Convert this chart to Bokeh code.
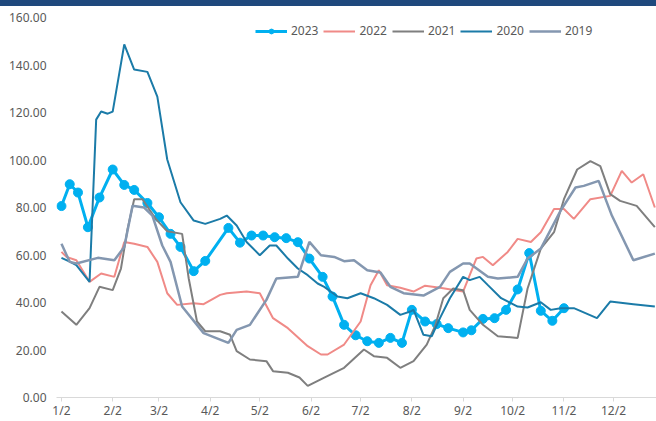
import pandas as pd
from bokeh.plotting import figure
from bokeh.models import (Legend, LegendItem, NumeralTickFormatter, Div,
                          SingleIntervalTicker, FixedTicker, Range1d)
from bokeh.layouts import column
from bokeh.embed import file_html
from bokeh.resources import INLINE

# x values: days counted from 2 January
tick_labels = ["1/2", "2/2", "3/2", "4/2", "5/2", "6/2", "7/2", "8/2", "9/2", "10/2", "11/2", "12/2"]

d2023 = [0, 5, 10, 16, 23, 31, 38, 44, 52, 59, 66, 72, 80, 87, 101, 108, 115, 122, 129, 136,
         143, 150, 158, 164, 171, 178, 185, 192, 199, 206, 212, 220, 227, 234, 243, 248, 255,
         262, 269, 276, 283, 290, 297, 304]
v2023 = [80.6, 89.8, 86.3, 71.7, 84.2, 96.0, 89.5, 87.4, 81.9, 75.9, 68.9, 63.4, 53.2, 57.5,
         71.4, 65.2, 68.2, 68.2, 67.5, 67.1, 65.4, 58.5, 50.8, 42.5, 30.6, 26.2, 23.7, 23.0,
         25.1, 23.0, 36.9, 32.0, 30.9, 29.2, 27.4, 28.3, 33.1, 33.4, 36.9, 45.5, 60.8, 36.5,
         32.3, 37.6]

d2022 = [0, 3, 9, 17, 24, 32, 38, 44, 52, 58, 64, 70, 80, 86, 96, 100, 112, 120, 128, 137,
         149, 157, 161, 171, 181, 187, 192, 197, 205, 213, 220, 229, 243, 251, 255, 261, 270,
         276, 284, 290, 298, 304, 310, 320, 332, 339, 345, 352, 359]
v2022 = [61.3, 59.2, 57.8, 48.7, 52.2, 50.8, 65.5, 64.7, 63.4, 57.1, 43.9, 39.0, 39.7, 39.3,
         43.2, 43.9, 44.6, 43.9, 33.4, 29.2, 21.6, 18.1, 18.1, 22.3, 32.0, 47.3, 53.6, 47.3,
         46.2, 44.6, 47.1, 46.2, 44.6, 58.5, 59.2, 55.7, 61.3, 66.8, 65.5, 69.6, 79.4, 79.4,
         75.2, 83.5, 84.9, 95.4, 90.5, 94.0, 80.0]

d2021 = [0, 9, 17, 23, 31, 36, 40, 44, 49, 57, 64, 73, 77, 82, 87, 96, 102, 106, 114, 124,
         128, 137, 144, 149, 159, 171, 183, 189, 197, 205, 213, 221, 226, 231, 237, 243, 247,
         255, 264, 276, 282, 290, 298, 304, 312, 320, 326, 332, 338, 348, 359]
v2021 = [36.2, 30.6, 37.6, 46.6, 45.2, 54.3, 71.0, 83.5, 83.5, 75.2, 70.0, 68.9, 50.1, 32.0,
         27.9, 27.9, 26.4, 19.5, 16.0, 15.3, 11.1, 10.4, 8.4, 4.9, 8.4, 12.5, 20.2, 17.4, 16.7,
         12.5, 15.3, 22.3, 30.0, 41.8, 45.9, 45.2, 36.9, 30.6, 25.8, 25.1, 45.9, 62.7, 69.6,
         83.5, 96.0, 99.5, 97.4, 85.6, 82.8, 80.7, 71.7]

d2020 = [0, 5, 9, 17, 21, 24, 28, 31, 38, 44, 52, 58, 64, 72, 80, 87, 96, 100, 106, 112, 120,
         126, 130, 137, 143, 149, 155, 159, 167, 173, 181, 189, 197, 205, 211, 213, 219, 224,
         229, 235, 243, 247, 253, 258, 266, 276, 282, 290, 296, 302, 310, 324, 332, 346, 359]
v2020 = [58.8, 57.2, 55.7, 48.7, 117.0, 120.4, 119.5, 120.4, 148.7, 138.1, 137.1, 126.7, 100.2,
         82.2, 74.5, 73.1, 75.2, 76.6, 72.4, 65.5, 59.9, 64.0, 64.0, 58.5, 54.3, 51.5, 48.0,
         46.6, 42.5, 41.8, 43.9, 41.8, 39.0, 34.8, 36.2, 36.9, 26.4, 25.8, 33.4, 41.8, 50.8,
         49.4, 50.8, 47.3, 41.8, 38.3, 37.9, 40.1, 36.9, 37.6, 37.6, 33.4, 40.4, 39.3, 38.3]

d2019 = [0, 5, 9, 22, 32, 38, 43, 50, 55, 61, 66, 73, 86, 96, 101, 106, 114, 124, 130, 143,
         150, 157, 165, 171, 177, 185, 193, 199, 207, 219, 229, 235, 243, 247, 258, 264, 276,
         282, 290, 302, 311, 316, 325, 333, 346, 359]
v2019 = [64.7, 57.1, 56.4, 58.8, 57.8, 63.4, 80.7, 80.0, 76.6, 64.0, 57.1, 38.3, 27.1, 24.4,
         23.0, 28.5, 30.6, 41.1, 50.1, 50.8, 65.5, 59.9, 59.2, 57.4, 57.8, 53.6, 52.6, 46.6,
         43.9, 42.9, 46.6, 52.9, 56.4, 56.4, 50.8, 50.1, 50.8, 58.5, 62.7, 78.7, 88.4, 89.1,
         91.2, 76.6, 57.8, 60.6]

base = pd.Timestamp(2023, 1, 2)
tick_days = [(pd.Timestamp(2023, m, 2) - base).days for m in range(1, 13)]

FONT = "Noto Sans"
TXT = "#595959"

p = figure(width=656, height=415, output_backend="svg", toolbar_location=None,
           x_range=Range1d(-3, 360), y_range=Range1d(0, 160))
p.min_border_left = 56
p.min_border_right = 0
p.min_border_top = 11
p.min_border_bottom = 0
p.outline_line_color = None
p.xgrid.visible = False
p.ygrid.visible = False
p.background_fill_color = "white"
p.border_fill_color = "white"

p.xaxis.ticker = FixedTicker(ticks=tick_days)
p.xaxis.major_label_overrides = {d: l for d, l in zip(tick_days, tick_labels)}
p.xaxis.axis_line_color = "#D9D9D9"
p.xaxis.major_tick_line_color = "#D9D9D9"
p.xaxis.major_tick_out = 4
p.xaxis.major_tick_in = 0
p.xaxis.minor_tick_line_color = None
p.xaxis.major_label_standoff = 0
p.xaxis.axis_label_standoff = 0
p.xaxis.major_label_text_font = FONT
p.xaxis.major_label_text_font_size = "12px"
p.xaxis.major_label_text_color = TXT

p.yaxis.ticker = SingleIntervalTicker(interval=20)
p.yaxis.formatter = NumeralTickFormatter(format="0.00")
p.yaxis.axis_line_color = None
p.yaxis.major_tick_line_color = None
p.yaxis.minor_tick_line_color = None
p.yaxis.major_label_standoff = 4
p.yaxis.axis_label_standoff = 0
p.yaxis.major_label_text_font = FONT
p.yaxis.major_label_text_font_size = "12px"
p.yaxis.major_label_text_color = TXT

r23l = p.line(d2023, v2023, line_color="#00B0F0", line_width=3)
r23m = p.scatter(d2023, v2023, size=9, fill_color="#00B0F0", line_color="#00B0F0")
r22 = p.line(d2022, v2022, line_color="#F08A87", line_width=2)
r21 = p.line(d2021, v2021, line_color="#7F7F7F", line_width=2)
r20 = p.line(d2020, v2020, line_color="#1B7BA8", line_width=2)
r19 = p.line(d2019, v2019, line_color="#8497B0", line_width=2.5)

legend = Legend(items=[
    LegendItem(label="2023", renderers=[r23l, r23m]),
    LegendItem(label="2022", renderers=[r22]),
    LegendItem(label="2021", renderers=[r21]),
    LegendItem(label="2020", renderers=[r20]),
    LegendItem(label="2019", renderers=[r19]),
], orientation="horizontal", location=(199, 358))
legend.background_fill_alpha = 0
legend.border_line_color = None
legend.padding = 0
legend.margin = 0
legend.spacing = 5
legend.glyph_width = 32
legend.glyph_height = 12
legend.label_height = 12
legend.label_standoff = 4
legend.label_text_font = FONT
legend.label_text_font_size = "12px"
legend.label_text_color = TXT
p.add_layout(legend, "center")

# dark header strip across the top of the chart
band = Div(text="", width=656, height=6, margin=(0, 0, 0, 0),
           styles={"background-color": "#1F497D"})

layout = column(band, p, spacing=0)
open("out.html", "w").write(file_html(layout, INLINE))
